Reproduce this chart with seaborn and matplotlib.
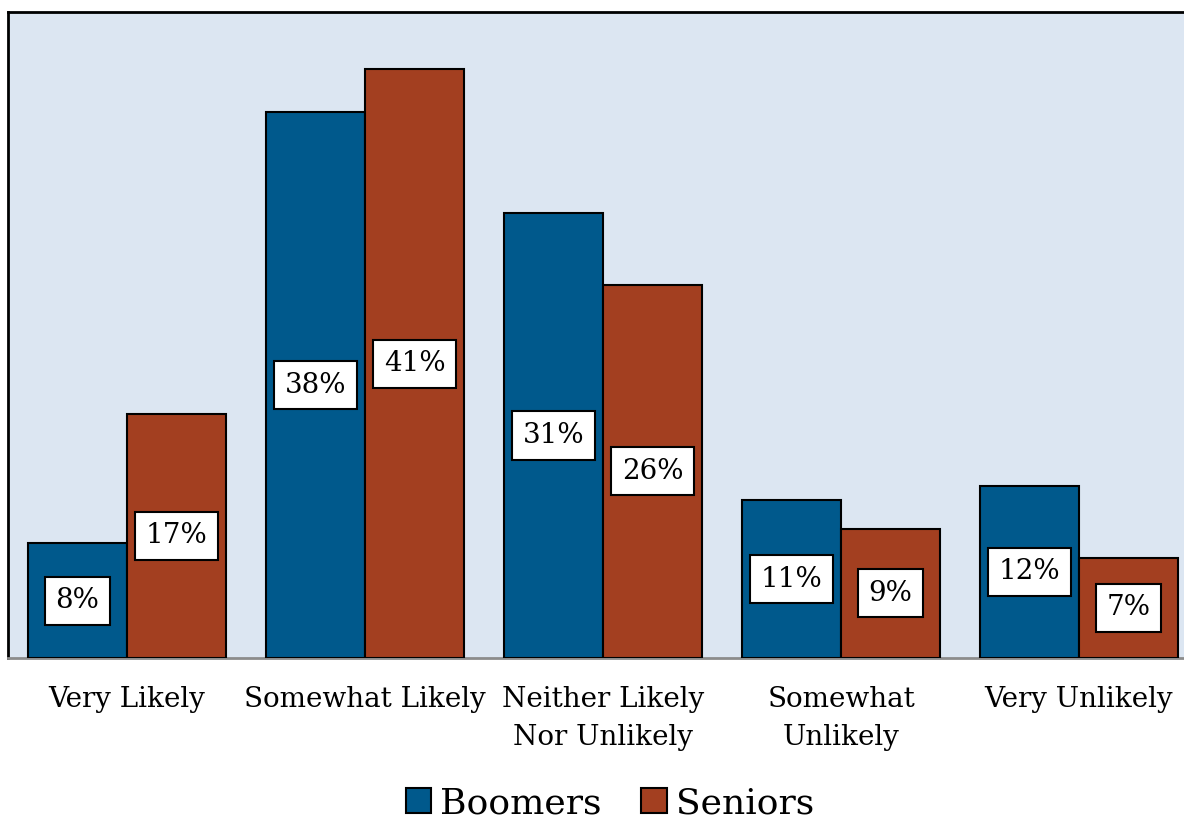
import matplotlib
matplotlib.use("Agg")
import matplotlib.pyplot as plt
import seaborn as sns
import pandas as pd

categories = ["Very Likely", "Somewhat Likely", "Neither Likely\nNor Unlikely",
              "Somewhat\nUnlikely", "Very Unlikely"]
boomers = [8, 38, 31, 11, 12]
seniors = [17, 41, 26, 9, 7]
groups = ["Boomers", "Seniors"]
colors = ["#00598C", "#A33F20"]

df = pd.DataFrame({
    "category": categories * 2,
    "value": boomers + seniors,
    "group": [groups[0]] * len(categories) + [groups[1]] * len(categories),
})

sns.set_theme(style="white")
plt.rcParams["font.family"] = ["DejaVu Serif"]
plt.rcParams["text.color"] = "black"
plt.rcParams["xtick.color"] = "black"

fig = plt.figure(figsize=(11.84, 8.21), dpi=100)
ax = fig.add_axes([8 / 1184, 1 - 658 / 821, (1198 - 8) / 1184, (658 - 12) / 821])
ax.set_facecolor("#DCE6F2")

sns.barplot(data=df, x="category", y="value", hue="group", palette=colors,
            width=0.832, gap=0, edgecolor="black", linewidth=1.5,
            saturation=1, ax=ax, legend=False, zorder=3)

ax.set_xlim(-0.5, 4.5)
ax.set_ylim(0, 45)
ax.set_xlabel("")
ax.set_ylabel("")
ax.set_yticks([])
ax.tick_params(axis="x", length=0, pad=20, labelsize=20, labelcolor="black")
for lbl in ax.get_xticklabels():
    lbl.set_linespacing(1.55)

for c in ax.containers:
    ax.bar_label(c, labels=[f"{v:.0f}%" for v in c.datavalues], label_type="center",
                 fontsize=20, color="black",
                 bbox=dict(boxstyle="square,pad=0.38", facecolor="white",
                           edgecolor="black", linewidth=1.5), zorder=5)

for side in ["left", "top"]:
    ax.spines[side].set_color("black")
    ax.spines[side].set_linewidth(2)
ax.spines["bottom"].set_color("#8C8C8C")
ax.spines["bottom"].set_linewidth(2)
ax.spines["right"].set_visible(False)

handles = [plt.Rectangle((0, 0), 1, 1, facecolor=col, edgecolor="black", linewidth=1.5)
           for col in colors]
fig.legend(handles, groups, loc="center", bbox_to_anchor=(610 / 1184, 1 - 803 / 821),
           ncol=2, frameon=False, fontsize=26, handlelength=0.7, handleheight=0.7,
           handletextpad=0.25, columnspacing=1.1, labelcolor="black")

fig.savefig("out.png", dpi=100)
